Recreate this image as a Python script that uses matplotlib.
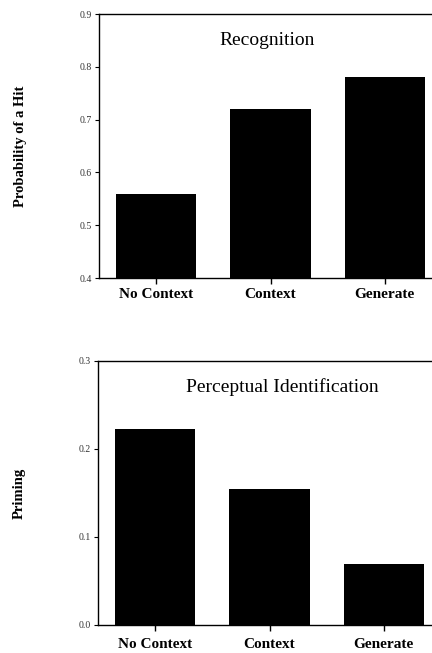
import matplotlib
matplotlib.use("Agg")
import matplotlib.pyplot as plt

categories = ["No Context", "Context", "Generate"]
recognition = [0.56, 0.72, 0.78]
priming = [0.223, 0.155, 0.069]
rec_ticks = [0.4, 0.5, 0.6, 0.7, 0.8, 0.9]
rec_ticklabels = ["0.4", "0.5", "0.6", "0.7", "0.8", "0.9"]
prim_ticks = [0.0, 0.1, 0.2, 0.3]
prim_ticklabels = ["0.0", "0.1", "0.2", "0.3"]

W, H = 432, 653
fig = plt.figure(figsize=(W / 100, H / 100), dpi=100)
serif = ["Liberation Serif", "DejaVu Serif"]

def px_axes(left, top, right, bottom):
    return fig.add_axes([left / W, 1 - bottom / H, (right - left) / W, (bottom - top) / H])

def style(ax, ylim, ticks, labels, ylabel, title, title_pos, xpad):
    x = list(range(len(categories)))
    ax.set_xlim(-0.5, 2.5)
    ax.set_ylim(*ylim)
    ax.set_yticks(ticks)
    ax.set_yticklabels(labels, fontsize=7, family=serif, color="#333333")
    ax.set_xticks(x)
    ax.set_xticklabels(categories, fontsize=11, family=serif, fontweight="bold")
    ax.tick_params(axis="y", direction="out", length=3, width=0.8, pad=2)
    ax.tick_params(axis="x", direction="out", length=4, width=1.0, pad=xpad)
    ax.spines["right"].set_visible(False)
    for s in ["left", "bottom", "top"]:
        ax.spines[s].set_linewidth(1.0)
    ax.set_ylabel(ylabel, fontsize=10.5, family=serif, fontweight="bold")
    ax.yaxis.set_label_coords(-0.21, 0.5)
    ax.text(title_pos[0], title_pos[1], title, transform=ax.transData,
            fontsize=14, family=serif, ha="center", va="center")

ax1 = px_axes(99, 14, 442, 278)
ax1.bar(range(len(categories)), recognition, width=0.7, color="black")
style(ax1, (0.4, 0.9), rec_ticks, rec_ticklabels, "Probability of a Hit", "Recognition", (0.97, 0.85), 3.5)

ax2 = px_axes(98, 361, 441, 625)
ax2.bar(range(len(categories)), priming, width=0.7, color="black")
style(ax2, (0.0, 0.3), prim_ticks, prim_ticklabels, "Priming", "Perceptual Identification", (1.11, 0.27), 5)

fig.savefig("out.png", dpi=100)
